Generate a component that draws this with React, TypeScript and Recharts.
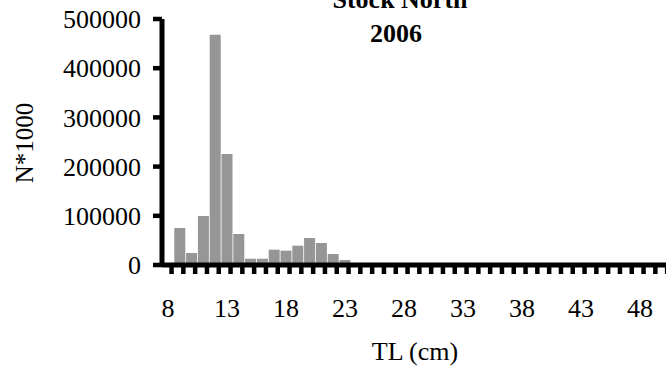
import React from "react";
import { BarChart, Bar, XAxis, YAxis } from "recharts";

const lengthClasses: number[] = [
  8, 9, 10, 11, 12, 13, 14, 15, 16, 17, 18, 19, 20, 21, 22, 23, 24, 25, 26, 27,
  28, 29, 30, 31, 32, 33, 34, 35, 36, 37, 38, 39, 40, 41, 42, 43, 44, 45, 46,
  47, 48, 49, 50,
];
const abundance: number[] = [
  0, 75200, 24400, 99600, 468000, 225600, 63000, 12800, 12800, 31100, 29100,
  39300, 54900, 44700, 22400, 10200, 0, 0, 0, 0, 0, 0, 0, 0, 0, 0, 0, 0, 0, 0,
  0, 0, 0, 0, 0, 0, 0, 0, 0, 0, 0, 0, 0,
];
const yTicks: number[] = [0, 100000, 200000, 300000, 400000, 500000];
const labelStep = 5;
const titleLines: string[] = ["Stock North", "2006"];
const xTitle = "TL (cm)";
const yTitle = "N*1000";

const data = lengthClasses.map((c, i) => ({ tl: c, n: abundance[i] }));

const FONT = "'Liberation Serif', 'Times New Roman', serif";

const XTick = (props: any) => {
  const { x, y, payload } = props;
  const half =
    payload && typeof payload.offset === "number" && payload.offset > 0
      ? payload.offset
      : 5.9;
  const showLabel = (payload.value - lengthClasses[0]) % labelStep === 0;
  return (
    <g>
      <rect x={x + half - 4.5} y={y + 1} width={4.5} height={8} fill="#000" />
      {showLabel ? (
        <text
          x={x}
          y={y + 52}
          textAnchor="middle"
          fontFamily={FONT}
          fontSize={26}
          fill="#000"
        >
          {payload.value}
        </text>
      ) : null}
    </g>
  );
};

const YTickLine = (props: any) => {
  return null;
};

export default function App() {
  return (
    <div
      style={{
        position: "absolute",
        left: 0,
        top: 0,
        width: 666,
        height: 369,
        overflow: "hidden",
        background: "#fff",
      }}
    >
      <BarChart
        width={672}
        height={369}
        data={data}
        margin={{ top: 19, right: 2.6, bottom: 44, left: 0 }}
        barCategoryGap={0.5}
      >
        <XAxis
          dataKey="tl"
          type="category"
          interval={0}
          tickLine={false}
          tickSize={0}
          tickMargin={0}
          axisLine={{ stroke: "#000", strokeWidth: 5 }}
          tick={<XTick />}
          height={60}
        />
        <YAxis
          type="number"
          domain={[0, 500000]}
          ticks={yTicks}
          interval={0}
          width={162}
          tickSize={9}
          tickMargin={12}
          tickLine={{ stroke: "#000", strokeWidth: 4.5 }}
          axisLine={{ stroke: "#000", strokeWidth: 5 }}
          tick={{ fill: "#000", fontSize: 26, fontFamily: FONT }}
        />
        <Bar dataKey="n" fill="#969696" isAnimationActive={false} />
      </BarChart>
      <svg
        width={666}
        height={369}
        style={{ position: "absolute", left: 0, top: 0, pointerEvents: "none" }}
      >
        <text
          x={400}
          y={8}
          textAnchor="middle"
          fontFamily={FONT}
          fontWeight="bold"
          fontSize={26}
          fill="#000"
        >
          {titleLines[0]}
        </text>
        <text
          x={396}
          y={42}
          textAnchor="middle"
          fontFamily={FONT}
          fontWeight="bold"
          fontSize={26}
          fill="#000"
        >
          {titleLines[1]}
        </text>
        <text
          x={0}
          y={0}
          transform="translate(33,143) rotate(-90)"
          textAnchor="middle"
          fontFamily={FONT}
          fontSize={25}
          fill="#000"
        >
          {yTitle}
        </text>
        <text
          x={415}
          y={360}
          textAnchor="middle"
          fontFamily={FONT}
          fontSize={26}
          fill="#000"
        >
          {xTitle}
        </text>
      </svg>
    </div>
  );
}
